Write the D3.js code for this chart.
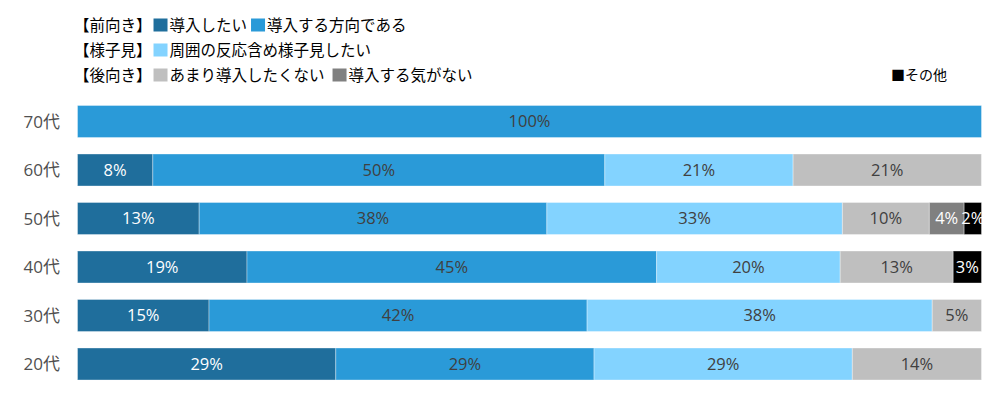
<!DOCTYPE html>
<html>
<head>
<meta charset="utf-8">
<script src="https://cdn.jsdelivr.net/npm/d3@7"></script>
<style>
  body { margin: 0; background: #fff; }
  svg text { font-family: "Open Sans", "Noto Sans CJK JP", sans-serif; }
</style>
</head>
<body>
<div id="chart"></div>
<script>
// age groups, top to bottom
const ages = ["70代", "60代", "50代", "40代", "30代", "20代"]

// series (answer) names and colours
const seriesNames = ["導入したい", "導入する方向である", "周囲の反応含め様子見したい", "あまり導入したくない", "導入する気がない", "その他"]
const seriesColors = ["#1f6e9c", "#2a9ad8", "#83d3ff", "#bfbfbf", "#808080", "#000000"]
const labelColors = ["#ffffff", "#404040", "#404040", "#404040", "#ffffff", "#ffffff"]

// share in % per series, one value per age group (same order as ages)
const wantNow    = [0,    8.33, 13.46, 18.75, 14.55, 28.57]
const leaning    = [100,  50.0, 38.46, 45.31, 41.82, 28.57]
const waitAndSee = [0,    20.83, 32.69, 20.31, 38.18, 28.57]
const reluctant  = [0,    20.83, 9.62, 12.5,  5.45,  14.29]
const notAtAll   = [0,    0,    3.85,  0,     0,     0]
const other      = [0,    0,    1.92,  3.13,  0,     0]

const seriesValues = [wantNow, leaning, waitAndSee, reluctant, notAtAll, other]

const W = 1000, H = 396

const svg = d3.select("#chart").append("svg")
  .attr("width", W).attr("height", H)

const x = d3.scaleLinear().domain([0, 100]).range([77.5, 981.5])
const y = d3.scaleBand().domain(ages).range([97.25, 388.25])
  .paddingInner(0.34).paddingOuter(0.17)

// build rows with stacked segments
const rows = ages.map((a, i) => {
  let acc = 0
  const segs = seriesValues.map((vals, s) => {
    const v = vals[i]
    const seg = { age: a, s: s, x0: acc, x1: acc + v, v: v }
    acc += v
    return seg
  }).filter(d => d.v > 0)
  return { age: a, segs: segs }
})

const row = svg.selectAll("g.row")
  .data(rows)
  .join("g")
  .attr("class", "row")
  .attr("transform", d => `translate(0,${y(d.age)})`)

row.selectAll("rect")
  .data(d => d.segs)
  .join("rect")
  .attr("x", d => x(d.x0))
  .attr("width", d => x(d.x1) - x(d.x0))
  .attr("y", 0)
  .attr("height", y.bandwidth())
  .attr("fill", d => seriesColors[d.s])
  .attr("stroke", "rgba(255,255,255,0.35)")
  .attr("stroke-width", 1)

row.selectAll("text.val")
  .data(d => d.segs)
  .join("text")
  .attr("class", "val")
  .attr("x", d => (x(d.x0) + x(d.x1)) / 2)
  .attr("y", y.bandwidth() / 2)
  .attr("dy", "0.36em")
  .attr("text-anchor", "middle")
  .attr("font-size", 16.5)
  .attr("fill", d => labelColors[d.s])
  .text(d => Math.round(d.v) + "%")

// category axis labels
svg.selectAll("text.cat")
  .data(ages)
  .join("text")
  .attr("class", "cat")
  .attr("x", 60)
  .attr("y", d => y(d) + y.bandwidth() / 2)
  .attr("dy", "0.36em")
  .attr("text-anchor", "end")
  .attr("font-size", 17)
  .attr("fill", "#505050")
  .text(d => d)

// legend: three grouped lines + "その他" on its own
const legendLines = [
  { head: "【前向き】", items: [0, 1], y: 25 },
  { head: "【様子見】", items: [2], y: 50 },
  { head: "【後向き】", items: [3, 4], y: 75 }
]
const lg = svg.append("g").attr("font-size", 15.5).attr("fill", "#000")

legendLines.forEach(line => {
  const head = lg.append("text")
    .attr("x", 74).attr("y", line.y).attr("dy", "0.36em")
    .text(line.head)
  let cx = 74 + head.node().getComputedTextLength() + 2
  line.items.forEach((s, k) => {
    lg.append("rect")
      .attr("x", cx).attr("y", line.y - 6.5)
      .attr("width", 14).attr("height", 13)
      .attr("fill", seriesColors[s])
    const t = lg.append("text")
      .attr("x", cx + 16).attr("y", line.y).attr("dy", "0.36em")
      .text(seriesNames[s])
    cx += 16 + t.node().getComputedTextLength() + (line.head === "【後向き】" ? 8 : 4)
  })
})

svg.append("text")
  .attr("x", 891).attr("y", 75).attr("dy", "0.36em")
  .attr("font-size", 14).attr("fill", "#000")
  .text("■" + seriesNames[5])
</script>
</body>
</html>
